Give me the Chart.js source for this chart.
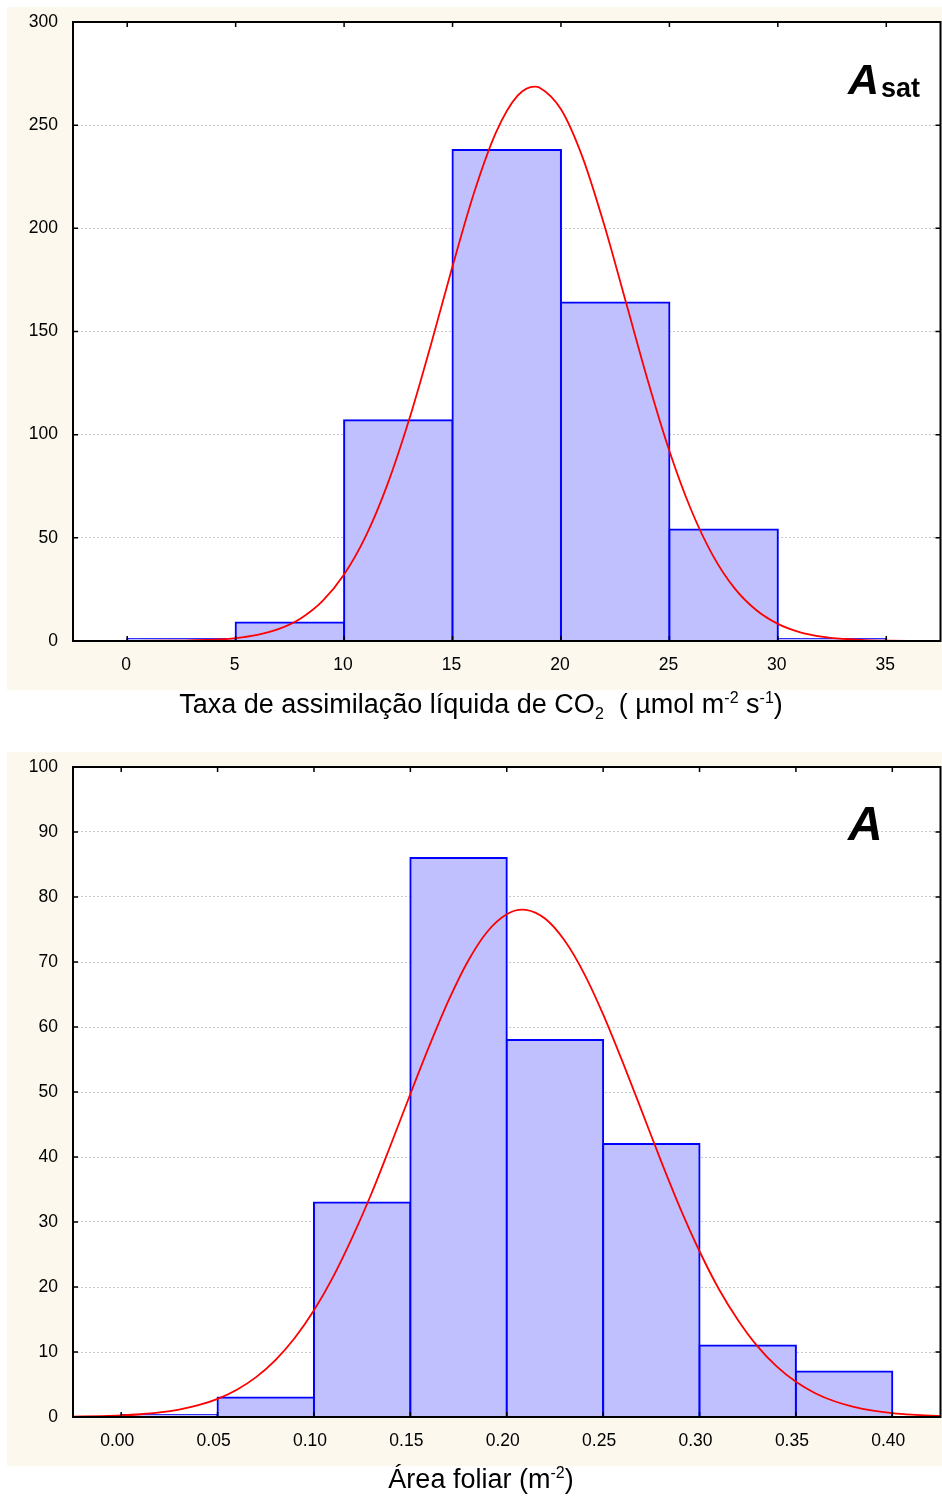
<!DOCTYPE html>
<html>
<head>
<meta charset="utf-8">
<script src="https://cdn.jsdelivr.net/npm/chart.js@4.4.1/dist/chart.umd.min.js"></script>
<style>
  body { margin: 0; background: #fff; }
  #page { position: relative; width: 942px; height: 1497px; overflow: hidden; }
  canvas { position: absolute; left: 7px; background: #fcf8ee; }
  .xt { position: absolute; left: 0; width: 962px; text-align: center; color: #000;
        font: 27px/27px "Liberation Sans", Arial, sans-serif; white-space: nowrap; }
  .xt sub, .xt sup { font-size: 16px; line-height: 0; }
  .pl { position: absolute; color: #000; font-family: "Liberation Sans", Arial, sans-serif;
        font-weight: bold; font-style: italic; line-height: 1; white-space: nowrap; }
  .pl span { font-style: normal; font-size: 27px; position: relative; top: 3px; margin-left: 2px; }
</style>
</head>
<body>
<div id="page">
  <canvas id="asatChart" width="935" height="683" style="top:7px"></canvas>
  <canvas id="areaChart" width="935" height="714" style="top:752px"></canvas>
  <div class="xt" style="top:691px">Taxa de assimilação líquida de CO<sub>2</sub>&nbsp; ( µmol m<sup>-2</sup> s<sup>-1</sup>)</div>
  <div class="xt" style="top:1466px">Área foliar (m<sup>-2</sup>)</div>
  <div class="pl" style="left:848px; top:58px; font-size:43px">A<span>sat</span></div>
  <div class="pl" style="left:848px; top:800px; font-size:48px">A</div>
</div>
<script>
// Asat histogram (bins of 5)
const asatBinCenters = [2.5, 7.5, 12.5, 17.5, 22.5, 27.5, 32.5];
const asatCounts = [0, 9, 107, 238, 164, 54, 1];
const asatTicks = [0, 5, 10, 15, 20, 25, 30, 35];
const asatTickLabels = ['0', '5', '10', '15', '20', '25', '30', '35'];
// fitted normal curve
const asatCurveX = [-2.5, 0, 2, 4, 5, 6, 7, 8, 9, 10, 11, 12, 13, 14, 15, 16, 17, 18, 18.8, 19, 20,
  21, 22, 23, 24, 25, 26, 27, 28, 29, 30, 31, 32, 33, 34, 35, 36, 37.5];
const asatCurveY = [0, 0.02, 0.12, 0.66, 1.44, 2.99, 5.89, 10.96, 19.3, 32.2, 50.8, 75.9, 107.3, 143.5,
  181.6, 217.5, 246.4, 264.3, 268.7, 268.3, 257.7, 234.3, 201.5, 164.0, 126.4, 92.1, 63.6, 41.5, 25.6,
  15.0, 8.3, 4.34, 2.15, 1.01, 0.45, 0.19, 0.07, 0.02];

// Leaf area histogram (bins of 0.05)
const areaBinCenters = [0.025, 0.075, 0.125, 0.175, 0.225, 0.275, 0.325, 0.375];
const areaCounts = [0, 3, 33, 86, 58, 42, 11, 7];
const areaTicks = [0, 0.05, 0.10, 0.15, 0.20, 0.25, 0.30, 0.35, 0.40];
const areaTickLabels = ['0.00', '0.05', '0.10', '0.15', '0.20', '0.25', '0.30', '0.35', '0.40'];
const areaCurveX = [-0.025, -0.01, 0, 0.01, 0.02, 0.03, 0.04, 0.05, 0.06, 0.07, 0.08, 0.09, 0.10,
  0.11, 0.12, 0.13, 0.14, 0.15, 0.16, 0.17, 0.18, 0.19, 0.20, 0.208, 0.21, 0.22, 0.23, 0.24, 0.25,
  0.26, 0.27, 0.28, 0.29, 0.30, 0.31, 0.32, 0.33, 0.34, 0.35, 0.36, 0.37, 0.38, 0.39, 0.40, 0.41,
  0.42, 0.425];
const areaCurveY = [0.06, 0.14, 0.24, 0.42, 0.70, 1.14, 1.81, 2.79, 4.20, 6.14, 8.75, 12.15, 16.42,
  21.6, 27.7, 34.5, 42.0, 49.7, 57.2, 64.2, 70.2, 74.7, 77.35, 78.06, 78.03, 76.65, 73.3, 68.3, 61.95,
  54.7, 47.1, 39.4, 32.1, 25.5, 19.7, 14.9, 10.9, 7.78, 5.41, 3.66, 2.42, 1.55, 0.97, 0.59, 0.35,
  0.20, 0.15];

Chart.defaults.font.family = '"Liberation Sans", Arial, sans-serif';
Chart.defaults.color = '#000';

// white plot area, black frame and inward tick marks
const framePlugin = {
  id: 'frame',
  beforeDraw(chart) {
    const { ctx, chartArea: a } = chart;
    ctx.save();
    ctx.fillStyle = '#fff';
    ctx.fillRect(a.left, a.top, a.width, a.height);
    ctx.restore();
  },
  afterDraw(chart) {
    const { ctx, chartArea: a, scales } = chart;
    ctx.save();
    ctx.strokeStyle = '#000';
    ctx.lineWidth = 1.5;
    ctx.beginPath();
    scales.x.ticks.forEach(t => {
      const px = scales.x.getPixelForValue(t.value);
      ctx.moveTo(px, a.top); ctx.lineTo(px, a.top + 5);
      ctx.moveTo(px, a.bottom); ctx.lineTo(px, a.bottom - 5);
    });
    scales.y.ticks.forEach(t => {
      const py = scales.y.getPixelForValue(t.value);
      ctx.moveTo(a.left, py); ctx.lineTo(a.left + 5, py);
      ctx.moveTo(a.right, py); ctx.lineTo(a.right - 5, py);
    });
    ctx.stroke();
    ctx.lineWidth = 2;
    ctx.strokeRect(a.left, a.top, a.width, a.height);
    ctx.restore();
  }
};

function makeHist(id, centers, counts, curveX, curveY, xMin, xMax, ticks, labels, yMax, yStep, labelShift) {
  return new Chart(document.getElementById(id), {
    type: 'bar',
    data: {
      datasets: [{
        type: 'line',
        data: curveX.map((x, i) => ({ x: x, y: curveY[i] })),
        borderColor: '#ff0000',
        borderWidth: 1.8,
        pointRadius: 0,
        cubicInterpolationMode: 'monotone',
        fill: false,
        order: 0
      }, {
        type: 'bar',
        data: centers.map((c, i) => ({ x: c, y: counts[i] })),
        backgroundColor: '#c0c0ff',
        borderColor: '#0000ff',
        borderWidth: 2,
        inflateAmount: 1,
        barPercentage: 1,
        categoryPercentage: 1,
        minBarLength: 2,
        order: 1
      }]
    },
    options: {
      responsive: false,
      animation: false,
      devicePixelRatio: 1,
      layout: { padding: { top: 15, right: 1.5, left: 0, bottom: 0 } },
      plugins: { legend: { display: false }, tooltip: { enabled: false } },
      scales: {
        x: {
          type: 'linear',
          min: xMin,
          max: xMax,
          offset: false,
          grid: { display: false, drawTicks: false },
          border: { display: false },
          afterBuildTicks: s => { s.ticks = ticks.map(v => ({ value: v })); },
          afterFit: s => { s.height = 49; },
          ticks: {
            autoSkip: false, maxRotation: 0, padding: 14, labelOffset: labelShift,
            font: { size: 17.5 },
            callback: (v, i) => labels[i]
          }
        },
        y: {
          min: 0,
          max: yMax,
          grid: { color: '#c8c8c8', lineWidth: 1, drawTicks: false },
          border: { display: false, dash: [2, 2] },
          afterFit: s => { s.width = 66; s.paddingTop = 0; s.paddingBottom = 0; },
          ticks: { stepSize: yStep, padding: 15, font: { size: 17.5 } }
        }
      }
    },
    plugins: [framePlugin]
  });
}

makeHist('asatChart', asatBinCenters, asatCounts, asatCurveX, asatCurveY,
  -2.5, 37.5, asatTicks, asatTickLabels, 300, 50, -1);
makeHist('areaChart', areaBinCenters, areaCounts, areaCurveX, areaCurveY,
  -0.025, 0.425, areaTicks, areaTickLabels, 100, 10, -4);
</script>
</body>
</html>
